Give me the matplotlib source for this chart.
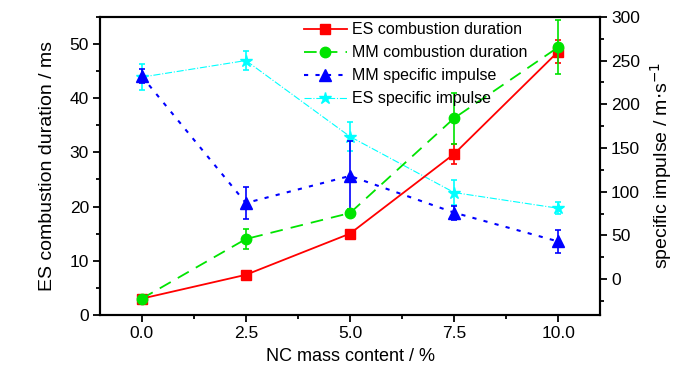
import matplotlib.pyplot as plt
import numpy as np
from matplotlib.ticker import MultipleLocator

plt.rcParams['font.family'] = ['Liberation Sans', 'DejaVu Sans']

nc = [0.0, 2.5, 5.0, 7.5, 10.0]

es_dur = [3.0, 7.4, 15.0, 29.7, 48.6]
es_dur_err = [0.3, 0.4, 0.5, 1.8, 2.2]
mm_dur = [3.0, 14.0, 18.8, 36.3, 49.4]
mm_dur_err = [0.3, 1.9, 0.8, 4.7, 5.0]

mm_imp = [232, 87, 118, 76, 43]
mm_imp_err = [8, 18, 40, 8, 13]
es_imp = [231, 250, 163, 99, 81]
es_imp_err = [15, 11, 17, 14, 7]

green = '#00e400'

fig = plt.figure(figsize=(7, 3.74), dpi=100)
ax = fig.add_axes([0.143, 0.158, 0.714, 0.797])
ax2 = ax.twinx()

# right axis series (drawn first, behind)
ax2.errorbar(nc, es_imp, yerr=es_imp_err, fmt='none', ecolor='cyan', elinewidth=1.2, capsize=2.5, capthick=1.2)
l4, = ax2.plot(nc, es_imp, color='cyan', ls='-.', lw=0.8, marker='*', ms=9, label='ES specific impulse')
ax2.errorbar(nc, mm_imp, yerr=mm_imp_err, fmt='none', ecolor='blue', elinewidth=1.2, capsize=2.5, capthick=1.2)
l3, = ax2.plot(nc, mm_imp, color='blue', ls=(0, (2, 3.5)), lw=1.5, marker='^', ms=8, label='MM specific impulse')

ax.errorbar(nc, es_dur, yerr=es_dur_err, fmt='none', ecolor='red', elinewidth=1.2, capsize=2.5, capthick=1.2)
l1, = ax.plot(nc, es_dur, color='red', ls='-', lw=1.3, marker='s', ms=6.5, label='ES combustion duration')
ax.errorbar(nc, mm_dur, yerr=mm_dur_err, fmt='none', ecolor=green, elinewidth=1.2, capsize=2.5, capthick=1.2)
l2, = ax.plot(nc, mm_dur, color=green, ls=(0, (7, 4.5)), lw=1.3, marker='o', ms=7.5, label='MM combustion duration')

ax.set_zorder(ax2.get_zorder() + 1)
ax.patch.set_visible(False)

ax.set_xlim(-1, 11)
ax.set_ylim(0, 55)
ax2.set_ylim(-41, 300)
ax.set_xticks(nc)
ax.set_xticklabels(['0.0', '2.5', '5.0', '7.5', '10.0'])
ax.xaxis.set_minor_locator(MultipleLocator(1.25))
ax.yaxis.set_major_locator(MultipleLocator(10))
ax.yaxis.set_minor_locator(MultipleLocator(5))
ax2.yaxis.set_major_locator(MultipleLocator(50))
ax2.yaxis.set_minor_locator(MultipleLocator(25))

for a in (ax, ax2):
    for s in a.spines.values():
        s.set_linewidth(1.5)
    a.tick_params(which='major', length=5, width=1.3, labelsize=12.5, pad=3)
    a.tick_params(which='minor', length=3, width=1.3)
ax.tick_params(axis='both', direction='out')
ax2.tick_params(axis='y', direction='out')

ax.set_xlabel('NC mass content / %', fontsize=13, labelpad=5)
ax.set_ylabel('ES combustion duration / ms', fontsize=14, labelpad=10)
ax2.set_ylabel('specific impulse / m$\\cdot$s$^{-1}$', fontsize=14, labelpad=6)

ax.legend(handles=[l1, l2, l3, l4], loc='upper left', bbox_to_anchor=(0.382, 1.025),
          frameon=False, fontsize=11.5, handlelength=2.7, labelspacing=0.5,
          handletextpad=0.3, borderpad=0.3)

fig.savefig('out.png', dpi=100)
